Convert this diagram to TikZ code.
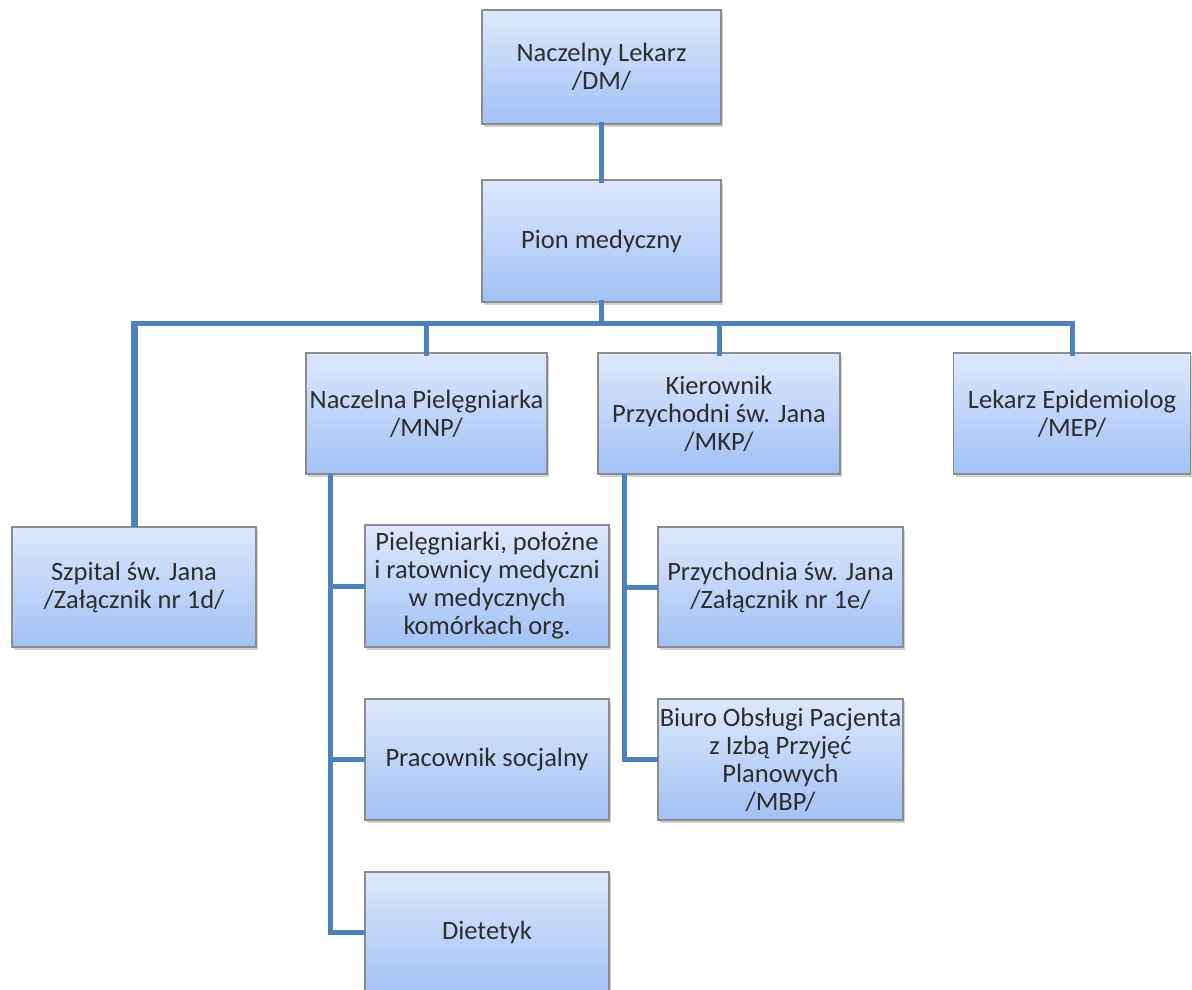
\documentclass[tikz,border=0pt]{standalone}
\usepackage{fontspec}
\setmainfont{Carlito}
\usetikzlibrary{shadows}
\definecolor{conn}{RGB}{79,129,189}
\definecolor{boxtop}{RGB}{221,232,252}
\definecolor{boxbot}{RGB}{162,193,245}
\definecolor{boxline}{RGB}{140,140,140}
\definecolor{txt}{RGB}{45,45,45}
\tikzset{
  orgbox/.style={draw=boxline, line width=1.2pt, top color=boxtop, bottom color=boxbot,
    inner sep=0pt, outer sep=0pt, align=center, text=txt,
    font=\fontsize{26.5}{28}\selectfont,
    drop shadow={shadow xshift=2pt, shadow yshift=-2.5pt, opacity=0.35}},
  link/.style={draw=conn, line width=5pt, line join=miter, line cap=rect}
}
\begin{document}
\begin{tikzpicture}[x=1pt,y=-1pt]
\clip (0,0) rectangle (1192,989);
\fill[white] (0,0) rectangle (1192,989);
% boxes
\node[orgbox, minimum width=239pt, minimum height=114pt] (dm) at (601.5,67) {Naczelny Lekarz\\/DM/};
\node[orgbox, minimum width=239pt, minimum height=122pt] (pion) at (601.5,241) {Pion medyczny};
\node[orgbox, minimum width=244pt, minimum height=120pt] (szp) at (134,587) {Szpital św. Jana\\/Załącznik nr 1d/};
\node[orgbox, minimum width=241pt, minimum height=121pt] (mnp) at (426.5,413.5) {Naczelna Pielęgniarka\\/MNP/};
\node[orgbox, minimum width=242pt, minimum height=121pt] (mkp) at (719,413.5) {Kierownik\\Przychodni św. Jana\\/MKP/};
\node[orgbox, minimum width=237pt, minimum height=121pt] (mep) at (1072,413.5) {Lekarz Epidemiolog\\/MEP/};
\node[orgbox, minimum width=244pt, minimum height=122pt] (piel) at (487,586) {Pielęgniarki, położne\\i ratownicy medyczni\\w medycznych\\komórkach org.};
\node[orgbox, minimum width=244pt, minimum height=121pt] (soc) at (487,759.5) {Pracownik socjalny};
\node[orgbox, minimum width=244pt, minimum height=121pt] (diet) at (487,932.5) {Dietetyk};
\node[orgbox, minimum width=245pt, minimum height=120pt] (przy) at (780.5,587) {Przychodnia św. Jana\\/Załącznik nr 1e/};
\node[orgbox, minimum width=245pt, minimum height=121pt] (biuro) at (780.5,759.5) {Biuro Obsługi Pacjenta\\z Izbą Przyjęć\\Planowych\\/MBP/};
% connectors
\coordinate (bar) at (601.5,323);
\coordinate (s1) at (330,474);
\coordinate (s2) at (624,474);
\draw[link] (dm.south) -- (pion.north);
\draw[link] (pion.south) -- (bar);
\draw[link] (szp.north |- bar) -| (mep.north);
\draw[link, line width=7pt, line cap=butt] (szp.north) -- ([yshift=2.5pt]szp.north |- bar);
\draw[link] (mnp.north |- bar) -- (mnp.north);
\draw[link] (mkp.north |- bar) -- (mkp.north);
\draw[link, line cap=butt] (s1) |- (diet.west);
\draw[link, line cap=butt] (s1 |- piel.west) -- (piel.west);
\draw[link, line cap=butt] (s1 |- soc.west) -- (soc.west);
\draw[link, line cap=butt] (s2) |- (biuro.west);
\draw[link, line cap=butt] (s2 |- przy.west) -- (przy.west);
\end{tikzpicture}
\end{document}
